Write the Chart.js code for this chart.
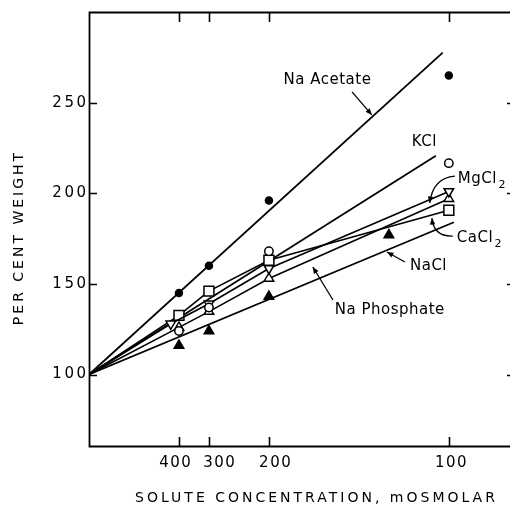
<!DOCTYPE html>
<html>
<head>
<meta charset="utf-8">
<script src="https://cdn.jsdelivr.net/npm/chart.js@4.4.1/dist/chart.umd.min.js"></script>
<style>
  html, body { margin: 0; padding: 0; background: #fff; }
  canvas { display: block; }
</style>
</head>
<body>
<canvas id="chart" width="510" height="510"></canvas>
<script>
// x axis is reciprocal concentration: 1000 / mOsmolar
const concTicks = [400, 300, 200, 100];
const yTicks = [100, 150, 200, 250];
// small sideways shifts of the printed x labels (px), as in the original figure
const xLabelNudge = [-4, 10, 6, 2];

// common start of every curve (infinite concentration, 100 %)
const originX = 0;
const originY = 100;

const acetateConc = [400, 300, 200, 100];
const acetateVals = [145, 160, 196, 265];
const acetateFitX = [0, 9.83];
const acetateFitY = [100, 277.6];

const kclConc = [400, 300, 200, 100];
const kclVals = [124, 137, 168, 216.6];
const kclFitX = [0, 9.64];
const kclFitY = [100, 220.7];

const mgConc = [440, 300, 200, 100];
const mgVals = [128, 139, 158.5, 201];

const caConc = [400, 300, 200, 100];
const caVals = [132.6, 146, 163, 190.6];

const phosConc = [400, 300, 200, 100];
const phosVals = [126, 134.7, 153, 197];

const naclConc = [400, 300, 200, 120];
const naclVals = [116, 124, 143, 177];
const naclFitX = [0, 10.14];
const naclFitY = [100, 184];

const recip = c => 1000 / c;
const pts = (conc, vals) => conc.map((c, i) => ({ x: recip(c), y: vals[i] }));
const fit = (xs, ys) => xs.map((x, i) => ({ x: x, y: ys[i] }));
const withOrigin = (conc, vals) => [{ x: originX, y: originY }].concat(pts(conc, vals));

// labels and arrows, in data units
const labels = [
    { text: 'Na Acetate', x: 6.62, y: 262.5, align: 'center' },
    { text: 'KCl', x: 9.31, y: 228.3, align: 'center' },
    { text: 'MgCl', sub: '2', x: 10.25, y: 207.9, align: 'left' },
    { text: 'CaCl', sub: '2', x: 10.22, y: 175.3, align: 'left' },
    { text: 'NaCl', x: 8.92, y: 159.9, align: 'left' },
    { text: 'Na Phosphate', x: 6.83, y: 135.6, align: 'left' }
];
const arrows = [
    { from: [7.31, 255.9], to: [7.86, 243.2] },
    { from: [10.17, 209.5], ctrl: [9.55, 208.5], to: [9.47, 194.6] },
    { from: [10.11, 176.4], ctrl: [9.58, 176.0], to: [9.53, 186.3] },
    { from: [8.78, 162.1], to: [8.28, 167.6] },
    { from: [6.78, 141.1], to: [6.22, 159.3] }
];

const FONT = '"DejaVu Sans", sans-serif';

const lineDs = (data) => ({
    data: data,
    borderColor: '#000',
    borderWidth: 1.8,
    pointRadius: 0,
    tension: 0,
    fill: false,
    order: 2
});

const markDs = (data, style, opts) => Object.assign({
    data: data,
    showLine: false,
    pointStyle: style,
    borderColor: '#000',
    backgroundColor: '#fff',
    pointBorderWidth: 1.5,
    pointRadius: 5,
    order: 0
}, opts || {});

const curveDs = (conc, vals, style, radius, rotation) => ({
    data: withOrigin(conc, vals),
    borderColor: '#000',
    borderWidth: 1.6,
    tension: 0,
    fill: false,
    pointStyle: style,
    pointRotation: rotation || 0,
    pointRadius: [0].concat(conc.map(() => radius)),
    pointBackgroundColor: '#fff',
    pointBorderColor: '#000',
    pointBorderWidth: 1.5,
    order: 1
});

// text with letter spacing, placed by its visible box
function spacedText(ctx, text, x, y, align, spacing) {
    ctx.letterSpacing = spacing + 'px';
    const w = ctx.measureText(text).width - spacing;
    ctx.textAlign = 'left';
    let left = x;
    if (align === 'center') left = x - w / 2;
    else if (align === 'right') left = x - w;
    ctx.fillText(text, left, y);
    ctx.letterSpacing = '0px';
    return w;
}

const framePlugin = {
    id: 'frame',
    afterDraw(chart) {
        const ctx = chart.ctx;
        const a = chart.chartArea;
        const xs = chart.scales.x;
        const ys = chart.scales.y;
        ctx.save();
        ctx.strokeStyle = '#000';
        ctx.fillStyle = '#000';
        ctx.lineWidth = 1.8;
        ctx.beginPath();
        ctx.moveTo(a.right, a.top + 0.5);
        ctx.lineTo(a.left + 0.5, a.top + 0.5);
        ctx.lineTo(a.left + 0.5, a.bottom - 0.5);
        ctx.lineTo(a.right, a.bottom - 0.5);
        ctx.stroke();

        // inward tick marks
        ctx.lineWidth = 1.6;
        ctx.beginPath();
        concTicks.forEach(c => {
            const px = Math.round(xs.getPixelForValue(recip(c))) + 0.5;
            ctx.moveTo(px, a.bottom);
            ctx.lineTo(px, a.bottom - 10);
            ctx.moveTo(px, a.top);
            ctx.lineTo(px, a.top + 10);
        });
        yTicks.forEach(v => {
            const py = Math.round(ys.getPixelForValue(v)) + 0.5;
            ctx.moveTo(a.left, py);
            ctx.lineTo(a.left + 8, py);
            ctx.moveTo(a.right, py);
            ctx.lineTo(a.right - 3, py);
        });
        ctx.stroke();

        // tick labels
        ctx.font = '15px ' + FONT;
        ctx.textBaseline = 'middle';
        concTicks.forEach((c, i) => {
            const px = xs.getPixelForValue(recip(c)) + xLabelNudge[i];
            spacedText(ctx, String(c), px, a.bottom + 16, 'center', 1.5);
        });
        yTicks.forEach(v => {
            spacedText(ctx, String(v), a.left - 3, ys.getPixelForValue(v), 'right', 2.5);
        });

        // axis titles
        ctx.font = '14px ' + FONT;
        spacedText(ctx, 'SOLUTE CONCENTRATION, mOSMOLAR', 315, 498, 'center', 3);
        ctx.save();
        ctx.translate(19, 239);
        ctx.rotate(-Math.PI / 2);
        spacedText(ctx, 'PER CENT WEIGHT', 0, 0, 'center', 3);
        ctx.restore();

        // curve labels
        labels.forEach(l => {
            const px = xs.getPixelForValue(l.x);
            const py = ys.getPixelForValue(l.y);
            ctx.font = '15px ' + FONT;
            const w = spacedText(ctx, l.text, px, py, l.align, 0.5);
            if (l.sub) {
                ctx.font = '11px ' + FONT;
                spacedText(ctx, l.sub, px + w + 2, py + 6, 'left', 0);
            }
        });

        // arrows
        ctx.lineWidth = 1.3;
        arrows.forEach(ar => {
            const fx = xs.getPixelForValue(ar.from[0]), fy = ys.getPixelForValue(ar.from[1]);
            const tx = xs.getPixelForValue(ar.to[0]), ty = ys.getPixelForValue(ar.to[1]);
            ctx.beginPath();
            ctx.moveTo(fx, fy);
            let dx, dy;
            if (ar.ctrl) {
                const cx = xs.getPixelForValue(ar.ctrl[0]), cy = ys.getPixelForValue(ar.ctrl[1]);
                ctx.quadraticCurveTo(cx, cy, tx, ty);
                dx = tx - cx; dy = ty - cy;
            } else {
                ctx.lineTo(tx, ty);
                dx = tx - fx; dy = ty - fy;
            }
            ctx.stroke();
            const ang = Math.atan2(dy, dx);
            const len = 7, wid = 0.4;
            ctx.beginPath();
            ctx.moveTo(tx, ty);
            ctx.lineTo(tx - len * Math.cos(ang - wid), ty - len * Math.sin(ang - wid));
            ctx.lineTo(tx - len * Math.cos(ang + wid), ty - len * Math.sin(ang + wid));
            ctx.closePath();
            ctx.fill();
        });
        ctx.restore();
    }
};

new Chart(document.getElementById('chart'), {
    type: 'line',
    data: {
        datasets: [
            lineDs(fit(acetateFitX, acetateFitY)),
            lineDs(fit(kclFitX, kclFitY)),
            lineDs(fit(naclFitX, naclFitY)),
            curveDs(mgConc, mgVals, 'triangle', 5.5, 180),
            curveDs(caConc, caVals, 'rect', 7),
            curveDs(phosConc, phosVals, 'triangle', 5.5),
            markDs(pts(acetateConc, acetateVals), 'circle', { backgroundColor: '#000', pointRadius: 3.5 }),
            markDs(pts(kclConc, kclVals), 'circle', { pointRadius: 4.2 }),
            markDs(pts(naclConc, naclVals), 'triangle', { backgroundColor: '#000', pointRadius: 5.5 })
        ]
    },
    options: {
        responsive: false,
        animation: false,
        events: [],
        layout: { autoPadding: false, padding: { top: 12, right: 0, left: 0, bottom: 0 } },
        plugins: {
            legend: { display: false },
            tooltip: { enabled: false }
        },
        scales: {
            x: {
                type: 'linear',
                min: 0,
                max: 11.7,
                border: { display: false },
                grid: { display: false, drawTicks: false },
                afterBuildTicks: s => { s.ticks = concTicks.map(c => ({ value: recip(c) })); },
                afterFit: s => { s.height = 63; s.paddingLeft = 0; s.paddingRight = 0; },
                ticks: { display: false }
            },
            y: {
                min: 60,
                max: 300,
                border: { display: false },
                grid: { display: false, drawTicks: false },
                afterBuildTicks: s => { s.ticks = yTicks.map(v => ({ value: v })); },
                afterFit: s => { s.width = 89; s.paddingTop = 0; s.paddingBottom = 0; },
                ticks: { display: false }
            }
        }
    },
    plugins: [framePlugin]
});
</script>
</body>
</html>
